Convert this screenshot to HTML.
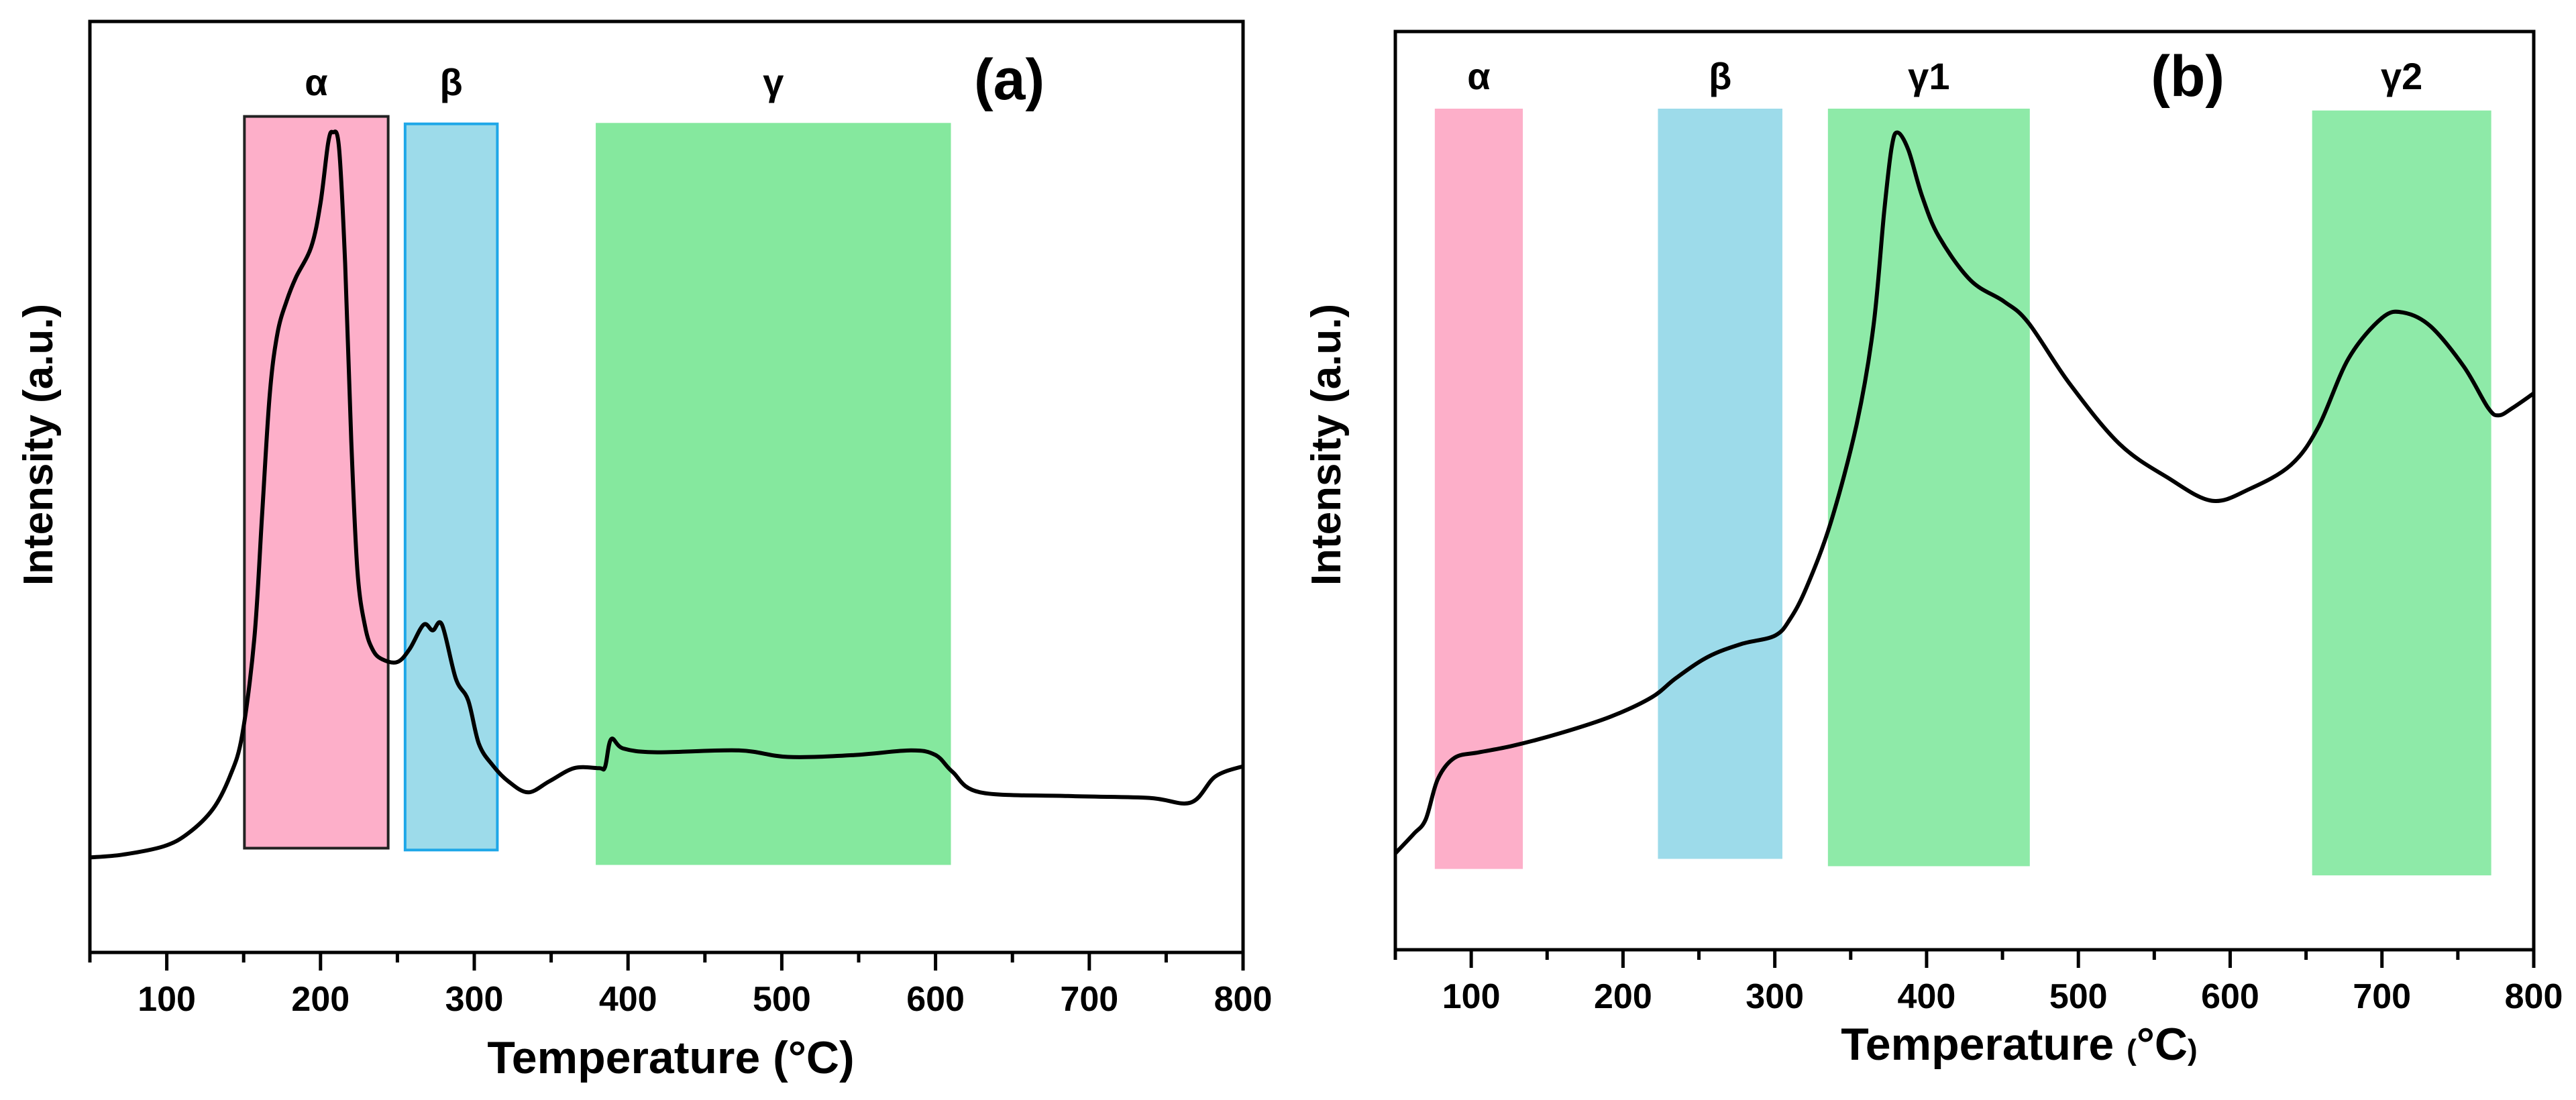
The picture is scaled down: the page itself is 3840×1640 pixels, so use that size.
<!DOCTYPE html>
<html><head><meta charset="utf-8"><style>
html,body{margin:0;padding:0;background:#fff;}
svg{display:block;font-family:"Liberation Sans",Arial,sans-serif;}
</style></head><body>
<svg id="fig" width="3840" height="1640" viewBox="0 0 3840 1640" xmlns="http://www.w3.org/2000/svg"></svg>
<script>
// Panel (a) data
const aTemps = [50,71,98,114,130,141,149,157,162,167,172,178,184,194,200,205,208,212,216,220,224,229,234,240,250,258,267,273,279,288,296,303,312,322,335,349,365,381,385,389,397,419,472,504,547,584,600,611,629,686,739,766,782,800];
const aIntensity = [10.2,10.5,11.4,12.8,15.4,18.9,23.3,33.8,47,60,66.5,70,72.5,75.8,80.5,87,88.1,86.5,74,55,41,35,32.5,31.5,31.2,32.6,35.2,34.6,35.2,29.4,27.1,22.4,20.1,18.4,17.2,18.4,19.8,19.8,19.9,22.9,21.9,21.5,21.7,21,21.2,21.7,21.2,19.4,17.2,16.8,16.6,16.1,18.9,20];
const aRegionLabels = ["α","β","γ"];
const aRegionStart = [150.5,255,379];
const aRegionEnd = [244,315,610];
const aRegionTop = [89.8,89,89.1];
const aRegionBottom = [11.2,11,9.4];
// Panel (b) data
const bTemps = [50,62,70,78,89,105,127,159,192,219,235,256,278,300,310,321,337,354,365,372,377,381,388,397,408,429,451,467,494,527,559,588,613,640,658,678,700,714,732,754,770,777,786,800];
const bIntensity = [10.5,12.6,14.2,18.6,20.9,21.5,22.2,23.6,25.4,27.5,29.6,31.9,33.3,34.2,36,39.5,46.6,57.3,67.9,80.3,87.4,89,87.1,82.1,77.7,72.9,70.6,68.3,61.7,55.1,51.4,48.9,50.2,52.8,56.9,64.4,68.8,69.4,67.9,63.5,59,58.2,59,60.6];
const bRegionLabels = ["α","β","γ1","γ2"];
const bRegionStart = [76,223,335,654];
const bRegionEnd = [134,305,468,772];
const bRegionTop = [91.6,91.6,91.6,91.4];
const bRegionBottom = [8.8,9.9,9.1,8.1];
const xTicks = [100,200,300,400,500,600,700,800];
const xMinor = [50,150,250,350,450,550,650,750];

const NS="http://www.w3.org/2000/svg";
const svg=document.getElementById('fig');
function mk(tag,attrs,parent){const e=document.createElementNS(NS,tag);for(const k in attrs)e.setAttribute(k,attrs[k]);(parent||svg).appendChild(e);return e;}

function smoothPath(pts){
  let d='M'+pts[0][0].toFixed(1)+' '+pts[0][1].toFixed(1);
  for(let i=0;i<pts.length-1;i++){
    const p0=pts[Math.max(0,i-1)],p1=pts[i],p2=pts[i+1],p3=pts[Math.min(pts.length-1,i+2)];
    const c1x=p1[0]+(p2[0]-p0[0])/6,c1y=p1[1]+(p2[1]-p0[1])/6;
    const c2x=p2[0]-(p3[0]-p1[0])/6,c2y=p2[1]-(p3[1]-p1[1])/6;
    d+='C'+c1x.toFixed(1)+' '+c1y.toFixed(1)+' '+c2x.toFixed(1)+' '+c2y.toFixed(1)+' '+p2[0].toFixed(1)+' '+p2[1].toFixed(1);
  }
  return d;
}

function panel(cfg){
  const g=mk('g',{});
  
  
  const X=t=>cfg.left+(t-50)/750*(cfg.right-cfg.left);
  const Y=v=>cfg.bottom-v/100*(cfg.bottom-cfg.top);
  for(let i=0;i<cfg.labels.length;i++){
    const r=mk('rect',{x:X(cfg.rs[i]),y:Y(cfg.rt[i]),width:X(cfg.re[i])-X(cfg.rs[i]),height:Y(cfg.rb[i])-Y(cfg.rt[i]),fill:cfg.colors[i],stroke:cfg.strokes[i],'stroke-width':cfg.strokes[i]=='none'?0:4},g);
    
    
    const t=mk('text',{x:(X(cfg.rs[i])+X(cfg.re[i]))/2,y:cfg.labelY,'text-anchor':'middle','font-size':56,'font-weight':'bold',fill:'#000'},g);
    t.textContent=cfg.labels[i];
    
    
  }
  const pts=cfg.temps.map((t,i)=>[X(t),Y(cfg.vals[i])]);
  const p=mk('path',{d:smoothPath(pts),fill:'none',stroke:'#000','stroke-width':6,'stroke-linejoin':'round'},g);
  
  
  const f=mk('rect',{x:cfg.left,y:cfg.top,width:cfg.right-cfg.left,height:cfg.bottom-cfg.top,fill:'none',stroke:'#000','stroke-width':5},g);
  
  
  xTicks.forEach(t=>{
    const l=mk('line',{x1:X(t),x2:X(t),y1:cfg.bottom,y2:cfg.bottom+27,stroke:'#000','stroke-width':5},g);
    
    
    const tx=mk('text',{x:X(t),y:cfg.bottom+87,'text-anchor':'middle','font-size':52,'font-weight':'bold'},g);
    tx.textContent=t;
    
    
  });
  xMinor.forEach(t=>{
    const l=mk('line',{x1:X(t),x2:X(t),y1:cfg.bottom,y2:cfg.bottom+15,stroke:'#000','stroke-width':5},g);
    
    
  });
  const xt=mk('text',{x:cfg.xTitleX,y:cfg.xTitleY,'text-anchor':'middle','font-size':68,'font-weight':'bold'},g);
  xt.innerHTML=cfg.xTitle;
  
  
  const yt=mk('text',{x:0,y:0,'text-anchor':'middle','font-size':62,'font-weight':'bold',transform:`translate(${cfg.yTitleX},${cfg.yTitleY}) rotate(-90)`},g);
  yt.textContent='Intensity (a.u.)';
  
  
  const pl=mk('text',{x:X(cfg.tagT),y:cfg.tagY,'text-anchor':'middle','font-size':86,'font-weight':'bold'},g);
  pl.textContent=cfg.tag;
  
  
}

panel({name:'panel-a',left:134,right:1853,top:32,bottom:1420,temps:aTemps,vals:aIntensity,
  labels:aRegionLabels,rs:aRegionStart,re:aRegionEnd,rt:aRegionTop,rb:aRegionBottom,
  colors:['#fdafc9','#9ddbea','#85e89e'],strokes:['#222','#1ea7e8','none'],labelY:142,
  xTitle:'Temperature (°C)',xTitleX:1000,xTitleY:1600,yTitleX:78,yTitleY:663,tag:'(a)',tagT:648,tagY:148});
panel({name:'panel-b',left:2080,right:3777,top:47,bottom:1416,temps:bTemps,vals:bIntensity,
  labels:bRegionLabels,rs:bRegionStart,re:bRegionEnd,rt:bRegionTop,rb:bRegionBottom,
  colors:['#fdafc9','#9ddbea','#8eeaa8','#8eeaa8'],strokes:['none','none','none','none'],labelY:133,
  xTitle:'Temperature <tspan font-size="44">(</tspan>°C<tspan font-size="44">)</tspan>',xTitleX:3010,xTitleY:1580,yTitleX:1998,yTitleY:663,tag:'(b)',tagT:572,tagY:143});
</script>
</body></html>
